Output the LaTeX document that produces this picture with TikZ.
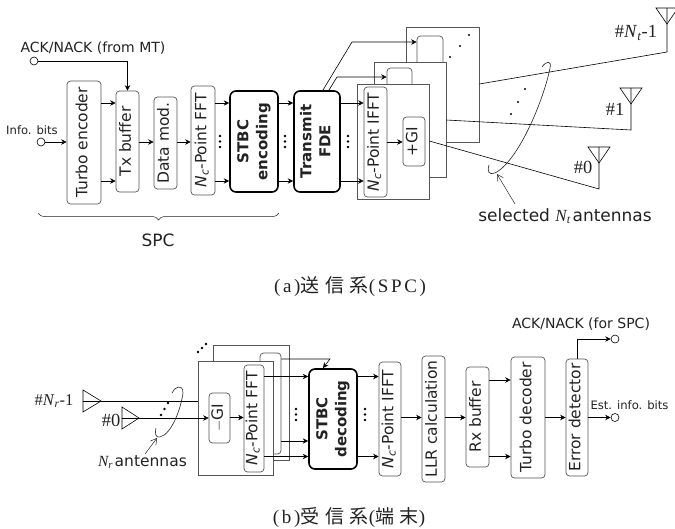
\documentclass[tikz,border=0pt]{standalone}
\usepackage{fontspec}
\setmainfont{Liberation Serif}
\setsansfont{DejaVu Sans}
\newfontfamily\capfont[LetterSpace=14]{Liberation Serif}
\newfontfamily\cjkfont[LetterSpace=30]{Noto Sans CJK JP}
\usepackage{tikz}
\usetikzlibrary{arrows.meta,positioning,calc,decorations.pathreplacing}
\definecolor{SysInk}{HTML}{222222}
\definecolor{SysEdge}{HTML}{555555}
\newcommand{\vtext}[1]{\rotatebox{90}{\begin{tabular}{@{}c@{}}#1\end{tabular}}}
\newcommand{\Nc}{\textit{N}\textsubscript{\textit{c}}}

\begin{document}
\begin{tikzpicture}[x=1pt,y=-1pt,>=Stealth]
  \tikzset{
    block/.style={draw=SysEdge,rounded corners=3.5pt,fill=white,inner sep=0pt,line width=.7pt,
      text=SysInk,font=\sffamily\fontsize{15.5}{17}\selectfont},
    heavy/.style={block,draw=black,line width=1.6pt,rounded corners=6pt,font=\sffamily\bfseries\fontsize{15}{19}\selectfont},
    panel/.style={draw=SysEdge,fill=white,line width=.7pt,inner sep=0pt},
    flow/.style={-{Stealth[length=5.5pt,width=5.5pt]},line width=.6pt,draw=black},
    wire/.style={line width=.6pt,draw=black},
    port/.style={circle,draw=black,fill=white,line width=.6pt,minimum size=8pt,inner sep=0pt},
    tag/.style={inner sep=0pt,text=SysInk,font=\sffamily\fontsize{14}{16}\selectfont},
    smalltag/.style={tag,font=\sffamily\fontsize{11.6}{13}\selectfont},
    bigtag/.style={tag,font=\sffamily\fontsize{17}{18}\selectfont},
    numtag/.style={inner sep=0pt,text=SysInk,font=\fontsize{18.5}{20}\selectfont},
    selring/.style={line width=.6pt,draw=SysInk},
    pointer/.style={-{Straight Barb[length=6pt,width=7pt]},line width=.5pt,draw=SysInk},
    caption/.style={inner sep=0pt,text=SysInk,font=\fontsize{19}{21}\selectfont}
  }
  \useasboundingbox (0,0) rectangle (675,528);

  % transmitter
  \coordinate (rowa) at (0,103);
  \coordinate (rowb) at (0,181);
  \coordinate (rowm) at (0,142);
  \node[block,minimum width=34pt,minimum height=123pt] (turbo) at (84,142.5) {\vtext{Turbo encoder}};
  \node[block,minimum width=23pt,minimum height=101pt] (txbuf) at (127.5,141.5) {\vtext{Tx buffer}};
  \node[block,minimum width=23pt,minimum height=92pt] (datamod) at (165.5,143) {\vtext{Data mod.}};
  \node[block,minimum width=24pt,minimum height=109pt] (fft) at (203,140.5) {\vtext{\Nc-Point FFT}};
  \node[heavy,minimum width=48pt,minimum height=101pt] (stbcenc) at (254,141.5) {\vtext{STBC\\encoding}};
  \node[heavy,minimum width=46pt,minimum height=101pt] (fde) at (317,141.5) {\vtext{Transmit\\FDE}};

  \node[panel,minimum width=73pt,minimum height=115pt] (panelc) at (442.5,84.5) {};
  \node[block,minimum width=26pt,minimum height=50pt] (ifftc) at (430,61) {};
  \node[panel,minimum width=72pt,minimum height=115pt] (panelb) at (410,119.5) {};
  \node[block,minimum width=25pt,minimum height=40pt] (ifftb) at (399.5,88) {};
  \node[panel,minimum width=72pt,minimum height=115pt] (panela) at (393,141.5) {};
  \node[block,minimum width=23pt,minimum height=110pt] (iffta) at (375.5,142) {\vtext{\Nc-Point IFFT}};
  \node[block,minimum width=22pt,minimum height=49pt] (gia) at (414,141.5) {\vtext{+GI}};

  \node[port] (ackin) at (34,61) {};
  \node[port] (infoin) at (41,142) {};
  \node[tag] at (93,48) {ACK/NACK (from MT)};
  \node[smalltag] at (32,130) {Info. bits};

  \draw[flow] (ackin) -| (txbuf.north);
  \draw[flow] (infoin) -- (turbo.west |- rowm);
  \foreach \src/\dst in {turbo/txbuf,stbcenc/fde,fft/stbcenc,fde/iffta}{
    \draw[flow] (\src.east |- rowa) -- (\dst.west |- rowa);
    \draw[flow] (\src.east |- rowb) -- (\dst.west |- rowb);
  }
  \draw[flow] (txbuf.east |- rowm) -- (datamod.west |- rowm);
  \draw[flow] (datamod.east |- rowm) -- (fft.west |- rowm);
  \draw[flow] (iffta.east |- rowm) -- (gia.west |- rowm);
  \coordinate (fdetopc) at (323,90);
  \coordinate (fdetopb) at (329,90);
  \coordinate (bendc) at (352,42);
  \coordinate (bendb) at (337,77);
  \draw[flow] (fdetopc) -- (bendc) -- (ifftc.west |- bendc);
  \draw[flow] (fdetopb) -- (bendb) -- (ifftb.west |- bendb);

  \foreach \dx in {220,285,348}
    \foreach \dy in {136,141.5,147}
      \fill[black] (\dx,\dy) circle (1.4pt);
  \foreach \dx/\dy in {450/57,460/46,469/35,511/114,518/102,525/89}
    \fill[black] (\dx,\dy) circle (1.2pt);

  % antennas
  \foreach \name/\tipx/\tipy/\feedy/\midy in {0/599/147/189/163,1/631/88/130/104,2/667/8/52/24}{
    \coordinate (ant\name) at (\tipx,\feedy);
    \coordinate (out\name) at (\tipx,\tipy);
    \draw[wire] (\tipx-11,\tipy) -- (\tipx+11,\tipy) -- (\tipx,\midy) -- cycle;
  }
  \draw[wire] (panela.east |- 0,141) -- (ant0) -- (out0);
  \draw[wire] (panelb.east |- 0,120) -- (ant1) -- (out1);
  \draw[wire] (panelc.east |- 0,84) -- (ant2) -- (out2);
  \node[numtag] at (583,167) {\#0};
  \node[numtag] at (615,109) {\#1};
  \node[numtag] at (636,33) {\#\textit{N}\textsubscript{\textit{t}}-1};
  \draw[selring] (542,67) .. controls (546,61) and (552,60) .. (550,68)
    .. controls (545,95) and (520,160) .. (495,173) .. controls (489,175) and (487,172) .. (489,165);
  \coordinate (selfrom) at (515,204);
  \coordinate (selto) at (497,174);
  \draw[pointer] (selfrom) -- (selto);
  \node[bigtag] at (565,216) {selected {\rmfamily\itshape N\textsubscript{t}}\hspace{2pt}antennas};

  \coordinate (bracea) at (38,213);
  \coordinate (braceb) at (279,213);
  \draw[line width=.5pt,draw=SysInk,decorate,decoration={brace,amplitude=7pt,mirror}] (bracea) -- (braceb);
  \node[bigtag] at (158,240) {SPC};
  \node[caption] at (350,287) {{\capfont (a)}{\cjkfont 送信系}{\capfont (SPC)}};

  % receiver
  \coordinate (rowc) at (0,376.5);
  \coordinate (rowd) at (0,456.5);
  \coordinate (rowe) at (0,417.5);
  \node[panel,minimum width=76pt,minimum height=115pt] (rxpanelb) at (251,402.5) {};
  \node[block,minimum width=21pt,minimum height=101pt] (rxfftb) at (270.5,403.5) {};
  \node[panel,minimum width=75pt,minimum height=114pt] (rxpanela) at (235.5,418) {};
  \node[block,minimum width=21pt,minimum height=50pt] (rxgi) at (219.5,418) {\vtext{$-$GI}};
  \node[block,minimum width=20pt,minimum height=107pt] (rxffta) at (254,418.5) {\vtext{\Nc-Point FFT}};
  \node[heavy,minimum width=48pt,minimum height=100pt] (stbcdec) at (333,419) {\vtext{STBC\\decoding}};
  \node[block,minimum width=22pt,minimum height=114pt] (rxifft) at (390,419) {\vtext{\Nc-Point IFFT}};
  \node[block,minimum width=23pt,minimum height=126pt] (llr) at (433.5,419) {\vtext{LLR calculation}};
  \node[block,minimum width=23pt,minimum height=100pt] (rxbuf) at (477.5,417) {\vtext{Rx buffer}};
  \node[block,minimum width=34pt,minimum height=121pt] (turbodec) at (528,417.5) {\vtext{Turbo decoder}};
  \node[block,minimum width=22pt,minimum height=117pt] (errdet) at (577,417.5) {\vtext{Error detector}};

  \node[port] (ackout) at (615,339) {};
  \node[port] (infoout) at (615,417.5) {};
  \node[tag] at (581,324) {ACK/NACK (for SPC)};
  \node[smalltag] at (629.5,405) {Est. info. bits};

  \draw[flow] (rxffta.east |- rowc) -- (stbcdec.west |- rowc);
  \draw[flow] (rxffta.east |- rowd) -- (stbcdec.west |- rowd);
  \draw[flow] (rxfftb.east |- 0,441) -- (stbcdec.west |- 0,441);
  \coordinate (rxbend) at (330,359);
  \coordinate (rxinto) at (323,368);
  \draw[flow] (rxfftb.east |- rxbend) -- (rxbend) -- (rxinto);
  \draw[flow] (rxgi.east |- rowe) -- (rxffta.west |- rowe);
  \draw[flow] (stbcdec.east |- rowc) -- (rxifft.west |- rowc);
  \draw[flow] (stbcdec.east |- rowd) -- (rxifft.west |- rowd);
  \draw[flow] (rxifft.east |- rowe) -- (llr.west |- rowe);
  \draw[flow] (llr.east |- rowe) -- (rxbuf.west |- rowe);
  \draw[flow] (rxbuf.east |- 0,380) -- (turbodec.west |- 0,380);
  \draw[flow] (rxbuf.east |- rowd) -- (turbodec.west |- rowd);
  \draw[flow] (turbodec.east |- rowe) -- (errdet.west |- rowe);
  \draw[flow] (errdet.north) |- (ackout);
  \draw[flow] (errdet.east |- rowe) -- (infoout);

  \foreach \dx in {296,365}
    \foreach \dy in {409,414.5,420}
      \fill[black] (\dx,\dy) circle (1.4pt);
  \foreach \dx/\dy in {161/415,164.5/409,168/403,198/352,202/348,206/344}
    \fill[black] (\dx,\dy) circle (1.3pt);

  \coordinate (rxantb) at (83,401);
  \coordinate (rxanta) at (122,418);
  \draw[wire] (rxantb |- 0,390) -- (101,401) -- (rxantb |- 0,412) -- cycle;
  \draw[wire] (rxanta |- 0,407) -- (139,418) -- (rxanta |- 0,429) -- cycle;
  \draw[wire,line width=.8pt] (rxantb) -- (rxpanela.west |- rxantb);
  \draw[flow] (rxanta) -- (rxgi.west |- rxanta);
  \node[numtag,font=\fontsize{16.5}{18}\selectfont] at (54,401) {\#\textit{N}\textsubscript{\textit{r}}-1};
  \node[numtag] at (111,420) {\#0};
  \draw[selring] (172,393) .. controls (174,387) and (183,383) .. (183,393)
    .. controls (181,408) and (172,434) .. (160,437) .. controls (155,438) and (155,433) .. (156,428);
  \coordinate (rxfrom) at (145,454);
  \coordinate (rxto) at (157,438);
  \draw[pointer] (rxfrom) -- (rxto);
  \node[bigtag,font=\sffamily\fontsize{15.5}{17}\selectfont] at (142.5,462) {{\rmfamily\itshape N\textsubscript{r}}\hspace{1.5pt}antennas};
  \node[caption] at (349,517) {{\capfont (b)}{\cjkfont 受信系}{\capfont (}{\cjkfont 端末}{\capfont )}};
\end{tikzpicture}
\end{document}
